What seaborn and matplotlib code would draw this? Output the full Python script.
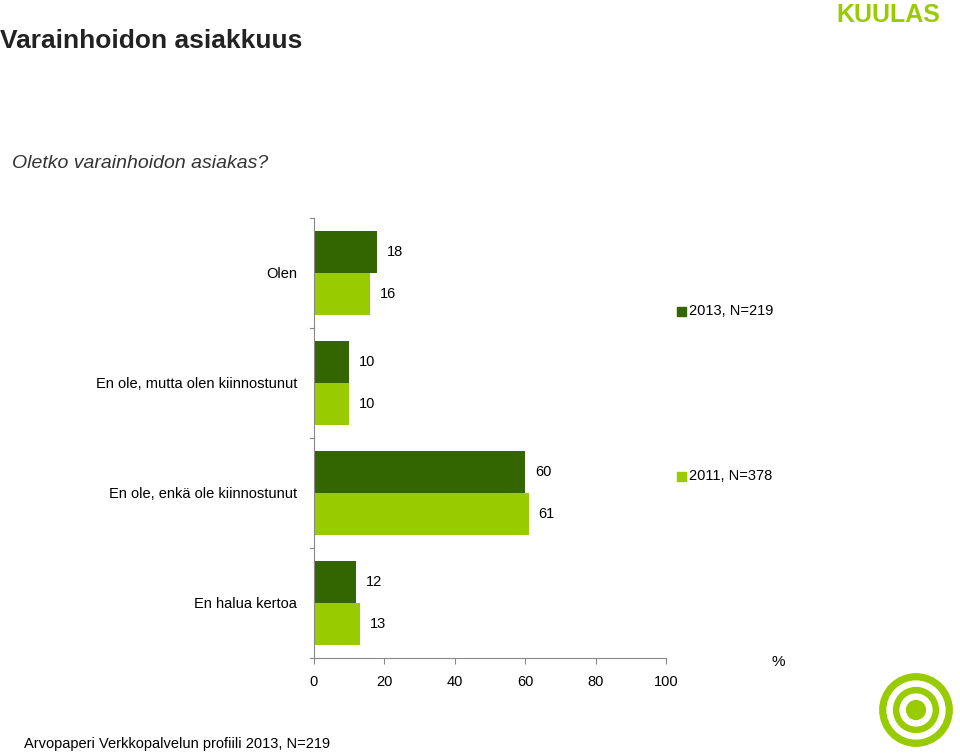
import matplotlib
matplotlib.use("Agg")
import matplotlib.pyplot as plt
import matplotlib.patches as mpatches
import seaborn as sns
import pandas as pd
import numpy as np

categories = ["Olen", "En ole, mutta olen kiinnostunut", "En ole, enkä ole kiinnostunut", "En halua kertoa"]
series = ["2013, N=219", "2011, N=378"]
values_2013 = [18, 10, 60, 12]
values_2011 = [16, 10, 61, 13]
x_ticks = [0, 20, 40, 60, 80, 100]
colors = ["#336600", "#99CC00"]

df = pd.DataFrame({
    "cat": categories * 2,
    "year": [series[0]] * 4 + [series[1]] * 4,
    "val": values_2013 + values_2011,
})

plt.rcParams["font.family"] = "Liberation Sans"
fig = plt.figure(figsize=(9.6, 7.55), dpi=100)
ax = fig.add_axes([314 / 960, 1 - 658 / 755, 352 / 960, 440 / 755])
sns.barplot(data=df, y="cat", x="val", hue="year", order=categories, hue_order=series,
            palette=colors, orient="h", width=0.76, saturation=1, ax=ax, legend=False)

for cont in ax.containers:
    for bar in cont:
        w = bar.get_width()
        ax.text(w + 2.8, bar.get_y() + bar.get_height() / 2, f"{w:.0f}",
                va="center", ha="left", fontsize=10.5)

ax.set_xlim(0, 100)
ax.set_ylim(3.5, -0.5)
ax.set_xticks(x_ticks)
ax.set_xlabel("")
ax.set_ylabel("")
ax.tick_params(axis="x", labelsize=10.5, length=4, color="#888888", pad=8)
ax.set_yticks(range(4))
ax.set_yticklabels(categories, fontsize=10.5)
ax.tick_params(axis="y", length=0, pad=12)
for yb in np.arange(-0.5, 4, 1):
    ax.plot([-1.2, 0], [yb, yb], color="#888888", lw=0.8, clip_on=False)
sns.despine(ax=ax, top=True, right=True)
ax.spines["left"].set_color("#888888")
ax.spines["bottom"].set_color("#888888")

# legend entries
for (label, col, ypx) in [(series[0], colors[0], 311), (series[1], colors[1], 476)]:
    fig.patches.append(mpatches.Rectangle((677 / 960, 1 - (ypx + 5) / 755), 9 / 960, 9 / 755,
                                          transform=fig.transFigure, color=col))
    fig.text(689 / 960, 1 - ypx / 755, label, fontsize=10.5, va="center")

fig.text(772 / 960, 1 - 662 / 755, "%", fontsize=11, va="center")
fig.text(0.0, 1 - 41 / 755, "Varainhoidon asiakkuus", fontsize=19, fontweight="bold",
         color="#222222", va="center")
fig.text(12 / 960, 1 - 163 / 755, "Oletko varainhoidon asiakas?", fontsize=14, style="italic",
         color="#333333", va="center")
fig.text(24 / 960, 1 - 744 / 755, "Arvopaperi Verkkopalvelun profiili 2013, N=219", fontsize=10.5,
         va="center")
fig.text(836 / 960, 1 - 15 / 755, "KUULAS", fontsize=18, fontweight="bold", color="#99CC00",
         va="center")

# logo circles
lax = fig.add_axes([872 / 960, 1 - 748 / 755, 88 / 960, 76 / 755])
lax.set_aspect("equal")
for r, c in [(1.0, "#99CC00"), (0.8, "white"), (0.62, "#99CC00"), (0.44, "white"), (0.26, "#99CC00")]:
    lax.add_patch(mpatches.Circle((0, 0), r, color=c))
lax.set_xlim(-1.05, 1.05)
lax.set_ylim(-1.05, 1.05)
lax.axis("off")

fig.savefig("out.png", dpi=100)
